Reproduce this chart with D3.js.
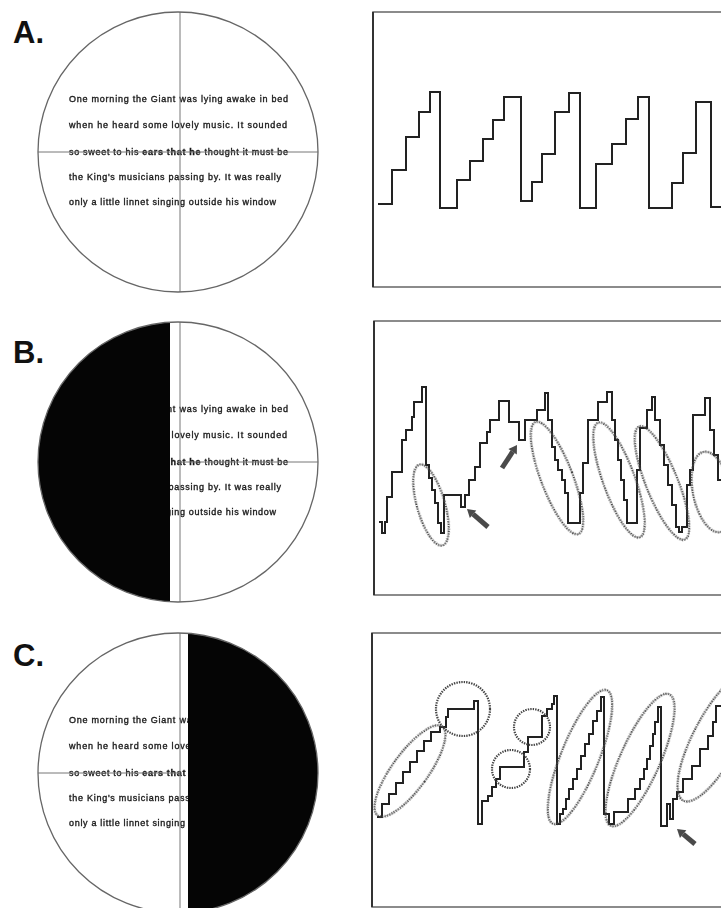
<!DOCTYPE html>
<html><head><meta charset="utf-8">
<script src="https://cdn.jsdelivr.net/npm/d3@7"></script>
<style>body{margin:0;background:#fff}svg{display:block}</style>
</head><body>
<script>
// ---------- DATA ----------
const panelLabels = ["A.", "B.", "C."];
const storyLines = [
  ["One morning the Giant was lying awake in bed"],
  ["when he heard some lovely music. It sounded"],
  ["so sweet to his ", "ears that he", " thought it must be"],
  ["the King's musicians passing by. It was really"],
  ["only a little linnet singing outside his window"]
];
// eye-position traces: [time, vertical position]
const traceA = [[5,83],[19,117],[33,150],[46,175],[57,195],[67,79],[84,107],[97,126],[110,148],[120,167],[131,190],[148,86],[159,105],[169,133],[182,175],[196,194],[207,79],[223,123],[239,143],[253,168],[265,190],[276,79],[299,104],[310,134],[323,185],[338,80],[352,80]];
const traceB = [[5,73],[8,62],[11,73],[13,98],[18,123],[28,155],[32,165],[38,178],[40,193],[48,208],[52,130],[55,117],[58,105],[61,92],[64,72],[67,62],[70,100],[87,88],[91,100],[95,115],[101,128],[106,152],[113,163],[116,175],[125,194],[135,173],[145,155],[151,175],[163,185],[171,202],[174,175],[178,148],[181,135],[184,125],[188,115],[191,102],[194,72],[206,102],[209,132],[214,175],[224,193],[233,203],[238,175],[241,155],[244,135],[247,115],[250,95],[253,72],[263,125],[266,167],[273,185],[278,198],[281,175],[286,150],[290,130],[294,110],[298,90],[302,68],[305,63],[308,68],[313,110],[316,125],[319,180],[331,197],[336,165],[340,140],[344,115],[348,95],[352,95]];
const traceC = [[5,90],[10,103],[17,113],[24,124],[31,135],[38,145],[45,156],[52,166],[59,175],[68,180],[74,190],[76,198],[102,206],[106,83],[110,106],[116,111],[120,120],[124,128],[128,140],[152,155],[156,170],[170,191],[175,198],[180,203],[182,211],[185,83],[188,93],[191,98],[194,108],[197,118],[201,128],[205,138],[209,151],[213,163],[217,173],[221,186],[225,196],[229,210],[232,93],[237,83],[242,95],[256,108],[263,118],[268,128],[272,138],[275,148],[278,161],[281,173],[283,185],[286,200],[289,81],[295,103],[298,88],[301,108],[305,115],[311,128],[320,141],[328,158],[336,171],[341,185],[344,201],[352,201]];
// dotted annotations: [centre time, centre position, half-width, half-height, tilt deg]
const ovalsB = [[57,90,14,42,-16],[183,117,16,60,-21],[245,115,16,61,-20],[288,112,16,61,-22],[338,103,19,41,-12]];
const ovalsC = [[38,136,18,55,36],[91,198,27,27,0],[139,138,19,19,0],[160,180,18,18,0],[208,150,19,72,22],[268,147,20,72,24],[345,170,23,72,28]];
// arrows: [from time, from pos, to time, to pos]
const arrowsB = [[114,68,93,86],[128,127,143,150]];
const arrowsC = [[323,63,305,78]];

// ---------- LAYOUT ----------
const W = 721, H = 908;
const layout = [
  {cx:178, cy:152, r:140, labelY:43, boxL:373, boxT:12, boxB:287, trace:traceA, ovals:[], arrows:[], mask:null, hLine:[37,318]},
  {cx:178, cy:462, r:140, labelY:363, boxL:374, boxT:321, boxB:595, trace:traceB, ovals:ovalsB, arrows:arrowsB, mask:[0,170], hLine:[180,318]},
  {cx:178, cy:773, r:140, labelY:666, boxL:372, boxT:633, boxB:907, trace:traceC, ovals:ovalsC, arrows:arrowsC, mask:[188,400], hLine:[37,180]}
];
const lineYOffsets = [-53,-27,0,25,50];
const lineWidths = [219,218,219,212,207];

const svg = d3.select("body").append("svg").attr("width", W).attr("height", H);
const defs = svg.append("defs");
defs.append("filter").attr("id","soft").append("feGaussianBlur").attr("stdDeviation",0.4);
defs.append("filter").attr("id","softer").append("feGaussianBlur").attr("stdDeviation",0.55);

layout.forEach((p, i) => {
  // label
  svg.append("text").attr("x", 13).attr("y", p.labelY)
    .attr("font-family","Liberation Sans, Arial, sans-serif").attr("font-weight","bold")
    .attr("font-size", 31).attr("fill","#111").text(panelLabels[i]);

  // circle (reading display)
  defs.append("clipPath").attr("id","cc"+i).append("circle").attr("cx",p.cx).attr("cy",p.cy).attr("r",p.r);
  const g = svg.append("g");
  g.append("circle").attr("cx",p.cx).attr("cy",p.cy).attr("r",p.r).attr("fill","#fff");
  const tg = g.append("g").attr("clip-path","url(#cc"+i+")").attr("filter","url(#softer)");
  storyLines.forEach((parts, k) => {
    const t = tg.append("text").attr("x", 69).attr("y", p.cy + lineYOffsets[k] + 3)
      .attr("font-family","Liberation Sans, Arial, sans-serif").attr("font-size", 9)
      .attr("fill","#1a1a1a").attr("stroke","#1a1a1a").attr("stroke-width",0.35)
      .attr("textLength", lineWidths[k]).attr("lengthAdjust","spacing");
    parts.forEach((s, j) => {
      t.append("tspan").attr("font-weight", j === 1 ? "bold" : "normal").text(s);
    });
  });
  const lg = g.append("g").attr("clip-path","url(#cc"+i+")").attr("stroke","#777").attr("stroke-width",1);
  lg.append("line").attr("x1",180).attr("x2",180).attr("y1",p.cy-p.r).attr("y2",p.cy+p.r);
  lg.append("line").attr("x1",p.hLine[0]).attr("x2",p.hLine[1]).attr("y1",p.cy).attr("y2",p.cy);
  if (p.mask) {
    g.append("rect").attr("clip-path","url(#cc"+i+")").attr("x",p.mask[0]).attr("width",p.mask[1]-p.mask[0])
      .attr("y",p.cy-p.r-2).attr("height",2*p.r+4).attr("fill","#050505");
  }
  g.append("circle").attr("cx",p.cx).attr("cy",p.cy).attr("r",p.r).attr("fill","none")
    .attr("stroke","#666").attr("stroke-width",1.3);

  // eye-movement record
  const x = d3.scaleLinear().domain([0,350]).range([p.boxL, p.boxL+350]);
  const y = d3.scaleLinear().domain([0,275]).range([p.boxB, p.boxB-275]);
  const rg = svg.append("g");
  rg.append("path").attr("d", `M${W+10},${p.boxT}H${p.boxL}V${p.boxB}H${W+10}`)
    .attr("fill","none").attr("stroke","#666").attr("stroke-width",1.5);
  rg.append("line").attr("x1",p.boxL).attr("x2",p.boxL).attr("y1",p.boxT).attr("y2",p.boxB)
    .attr("stroke","#333").attr("stroke-width",2);
  const line = d3.line().x(d=>x(d[0])).y(d=>y(d[1])).curve(d3.curveStepAfter);
  rg.append("path").datum(p.trace).attr("d", line).attr("fill","none")
    .attr("stroke","#222").attr("stroke-width",2).attr("filter","url(#soft)");

  p.ovals.forEach(o => {
    const cxp = x(o[0]), cyp = y(o[1]);
    const rx = x(o[2]) - x(0), ry = y(0) - y(o[3]);
    rg.append("ellipse").attr("cx",cxp).attr("cy",cyp).attr("rx",rx).attr("ry",ry)
      .attr("transform",`rotate(${o[4]},${cxp},${cyp})`)
      .attr("fill","none").attr("stroke","#444").attr("stroke-width",2.2)
      .attr("stroke-dasharray","1.4,1.1").attr("filter","url(#soft)");
  });
  p.arrows.forEach(a => {
    const x1 = x(a[0]), y1 = y(a[1]), x2 = x(a[2]), y2 = y(a[3]);
    const dx = x2-x1, dy = y2-y1, L = Math.hypot(dx,dy), ux = dx/L, uy = dy/L;
    const hl = 8, hw = 5;
    const bx = x2 - ux*hl, by = y2 - uy*hl;
    rg.append("line").attr("x1",x1).attr("y1",y1).attr("x2",bx).attr("y2",by)
      .attr("stroke","#4a4a4a").attr("stroke-width",5);
    rg.append("path").attr("d",`M${x2},${y2}L${bx - uy*hw},${by + ux*hw}L${bx + uy*hw},${by - ux*hw}Z`)
      .attr("fill","#4a4a4a");
  });
});
</script>
</body></html>
